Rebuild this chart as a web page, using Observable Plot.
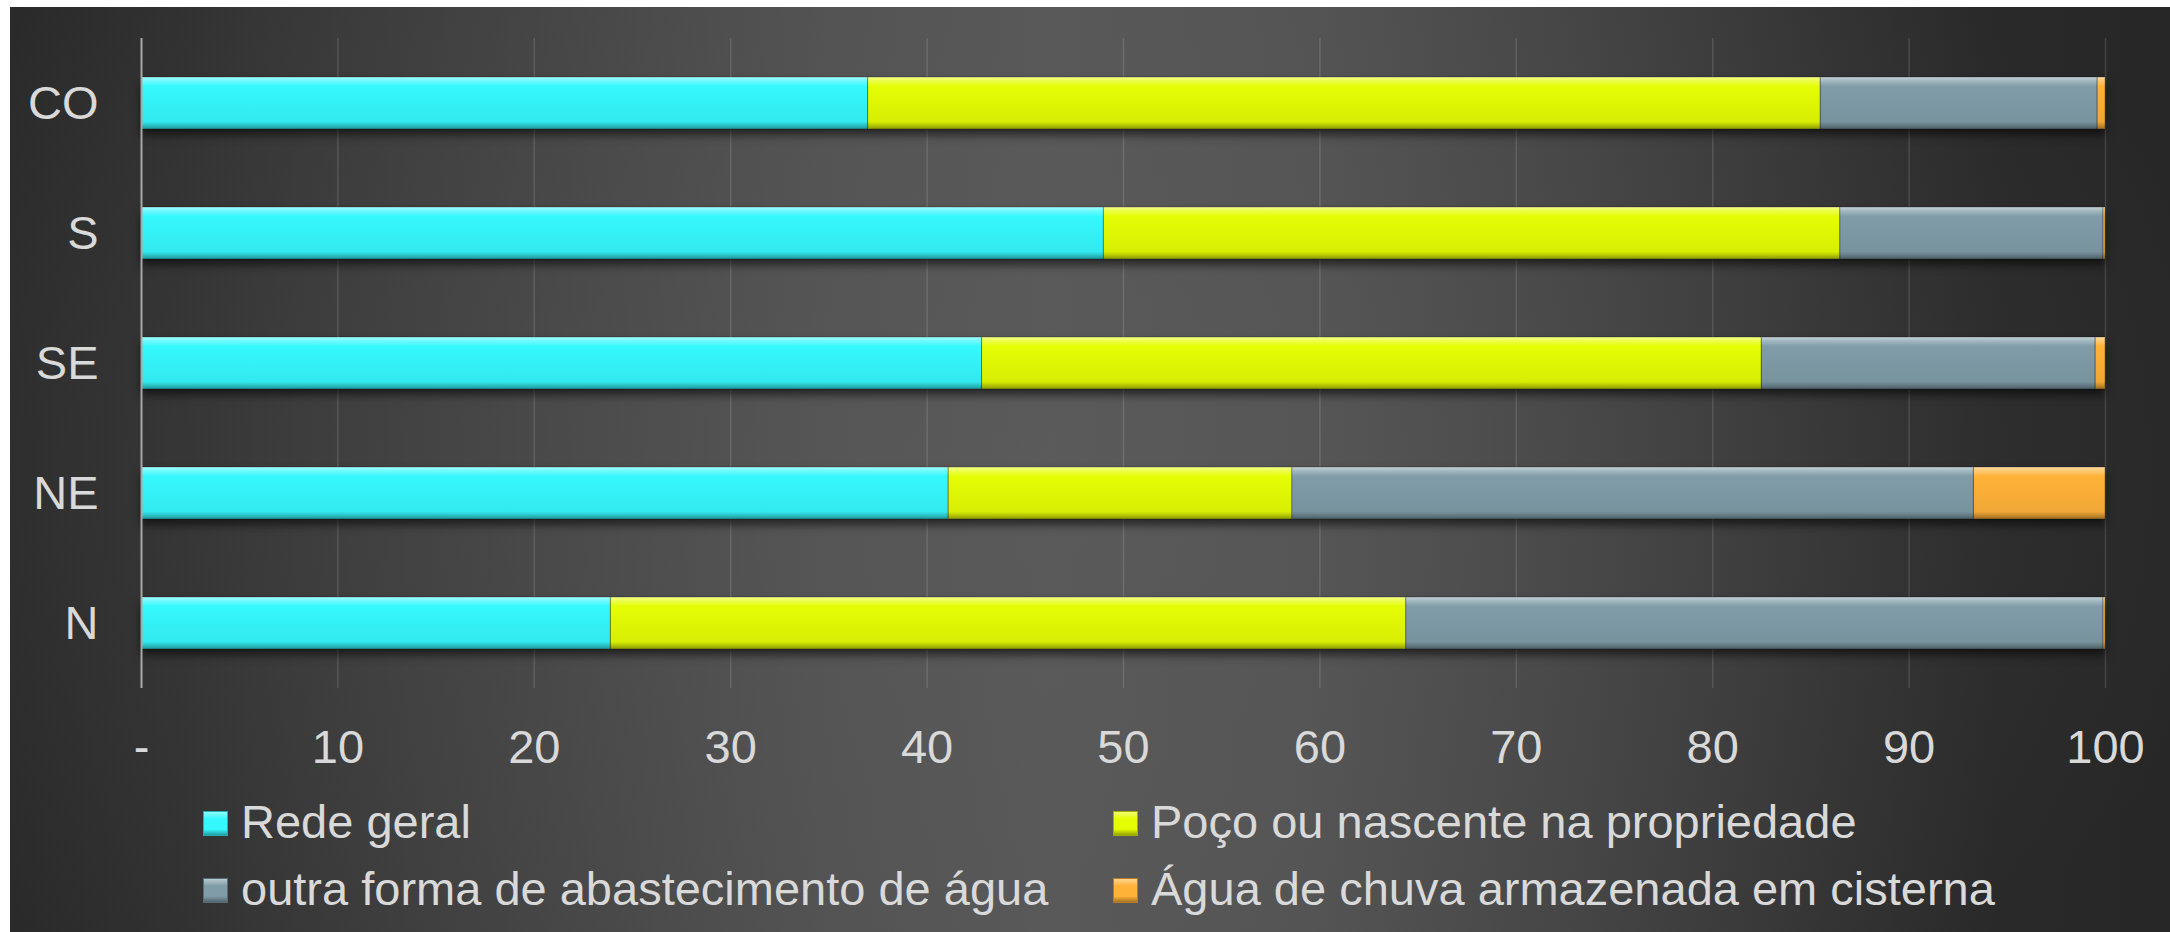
<!DOCTYPE html>
<html>
<head>
<meta charset="utf-8">
<script src="https://cdn.jsdelivr.net/npm/d3@7"></script>
<script src="https://cdn.jsdelivr.net/npm/@observablehq/plot@0.6"></script>
<style>
  html, body { margin: 0; padding: 0; background: #ffffff; }
  #page { position: relative; width: 2170px; height: 932px; overflow: hidden; background: #fff; }
  #bg {
    position: absolute; left: 10px; top: 7px; right: 0; bottom: 0;
    background:
      radial-gradient(ellipse 60% 75% at 46% 50%, rgba(95,95,95,0.35) 0%, rgba(95,95,95,0) 100%),
      linear-gradient(to right, #2a2a2a 0%, #303030 8%, #3e3e3e 20%, #525252 38%, #585858 48%, #535353 60%, #444444 72%, #333333 84%, #292929 92%, #272727 100%);
  }
  #chart { position: absolute; left: 0; top: 0; }
  #legend { position: absolute; left: 0; top: 790px; width: 2170px; height: 142px;
    font-family: 'Liberation Sans', Arial, sans-serif; font-size: 47px; color: #d9d9d9; }
  .item { position: absolute; height: 47px; line-height: 47px; white-space: nowrap; }
  .sw { position: absolute; left: 0; top: 13px; width: 25px; height: 25px; box-sizing: border-box; }
  .lbl { position: absolute; left: 38px; top: 0; }
</style>
</head>
<body>
<div id="page">
  <div id="bg"></div>
  <div id="chart"></div>
  <div id="legend"></div>
</div>
<script>
// ---- data ----
const regions = ["CO", "S", "SE", "NE", "N"];
const series = [
  "Rede geral",
  "Poço ou nascente na propriedade",
  "outra forma de abastecimento de água",
  "Água de chuva armazenada em cisterna"
];
const redeGeral = [37.0, 49.0, 42.8, 41.1, 23.9];
const poco      = [48.5, 37.5, 39.7, 17.5, 40.5];
const outra     = [14.1, 13.4, 17.0, 34.7, 35.5];
const cisterna  = [0.4, 0.1, 0.5, 6.7, 0.1];
const xTicks = [0, 10, 20, 30, 40, 50, 60, 70, 80, 90, 100];
const seriesColors = ["#35f8fd", "#e5fd04", "#7f9ca8", "#ffb238"];

const values = [redeGeral, poco, outra, cisterna];
const rows = [];
regions.forEach((r, i) => {
  series.forEach((s, j) => rows.push({region: r, series: s, value: values[j][i]}));
});

function mix(c, target, t) {
  const a = d3.rgb(c), b = d3.rgb(target);
  return d3.rgb(a.r + (b.r - a.r) * t, a.g + (b.g - a.g) * t, a.b + (b.b - a.b) * t).formatHex();
}

const svg = Plot.plot({
  width: 2170,
  height: 790,
  marginLeft: 141,
  marginRight: 65,
  marginTop: 38,
  marginBottom: 102,
  style: {
    background: "transparent",
    color: "#d9d9d9",
    fontFamily: "'Liberation Sans', Arial, sans-serif",
    fontSize: "47px",
    overflow: "visible"
  },
  x: {domain: [0, 100], ticks: xTicks, tickFormat: d => d === 0 ? "-" : String(d), tickSize: 0, tickPadding: 41, label: null},
  y: {domain: regions, paddingInner: 0.6, paddingOuter: 0.3, round: false, tickSize: 0, tickPadding: 43, label: null},
  color: {type: "ordinal", domain: series, range: series.map((_, i) => `url(#grad${i})`)},
  marks: [
    Plot.gridX(xTicks.filter(d => d > 0), {stroke: "#ffffff", strokeOpacity: 0.13, strokeWidth: 1.5}),
    Plot.barX(rows, Plot.stackX({x: "value", y: "region", fill: "series", insetLeft: 0, insetRight: 0, stroke: "rgba(0,0,0,0.28)", strokeWidth: 1})),
    Plot.ruleX([0], {stroke: "#a8a8a8", strokeWidth: 2})
  ]
});

// gradients for bevelled bars
const ns = "http://www.w3.org/2000/svg";
const defs = document.createElementNS(ns, "defs");
seriesColors.forEach((c, i) => {
  const g = document.createElementNS(ns, "linearGradient");
  g.setAttribute("id", `grad${i}`);
  g.setAttribute("x1", "0"); g.setAttribute("y1", "0");
  g.setAttribute("x2", "0"); g.setAttribute("y2", "1");
  const stops = [
    [0, mix(c, "#ffffff", 0.55)],
    [0.07, mix(c, "#ffffff", 0.3)],
    [0.18, c],
    [0.86, mix(c, "#000000", 0.06)],
    [0.93, mix(c, "#000000", 0.22)],
    [1, mix(c, "#000000", 0.4)]
  ];
  stops.forEach(([o, col]) => {
    const s = document.createElementNS(ns, "stop");
    s.setAttribute("offset", o);
    s.setAttribute("stop-color", col);
    g.appendChild(s);
  });
  defs.appendChild(g);
});
svg.insertBefore(defs, svg.firstChild);
svg.querySelectorAll('g[aria-label="bar"]').forEach(g => {
  g.style.filter = "drop-shadow(0px 6px 4px rgba(0,0,0,0.55))";
});
document.getElementById("chart").appendChild(svg);

// legend (two columns, two rows)
const legendPos = [
  {left: 203, top: 8},
  {left: 1113, top: 8},
  {left: 203, top: 75},
  {left: 1113, top: 75}
];
const legend = document.getElementById("legend");
series.forEach((s, i) => {
  const c = seriesColors[i];
  const item = document.createElement("div");
  item.className = "item";
  item.style.left = legendPos[i].left + "px";
  item.style.top = legendPos[i].top + "px";
  const sw = document.createElement("span");
  sw.className = "sw";
  sw.style.background = `linear-gradient(to bottom, ${mix(c, "#ffffff", 0.45)} 0%, ${c} 30%, ${c} 75%, ${mix(c, "#000000", 0.35)} 100%)`;
  sw.style.border = `1px solid ${mix(c, "#000000", 0.3)}`;
  const lbl = document.createElement("span");
  lbl.className = "lbl";
  lbl.textContent = s;
  item.appendChild(sw);
  item.appendChild(lbl);
  legend.appendChild(item);
});
</script>
</body>
</html>
